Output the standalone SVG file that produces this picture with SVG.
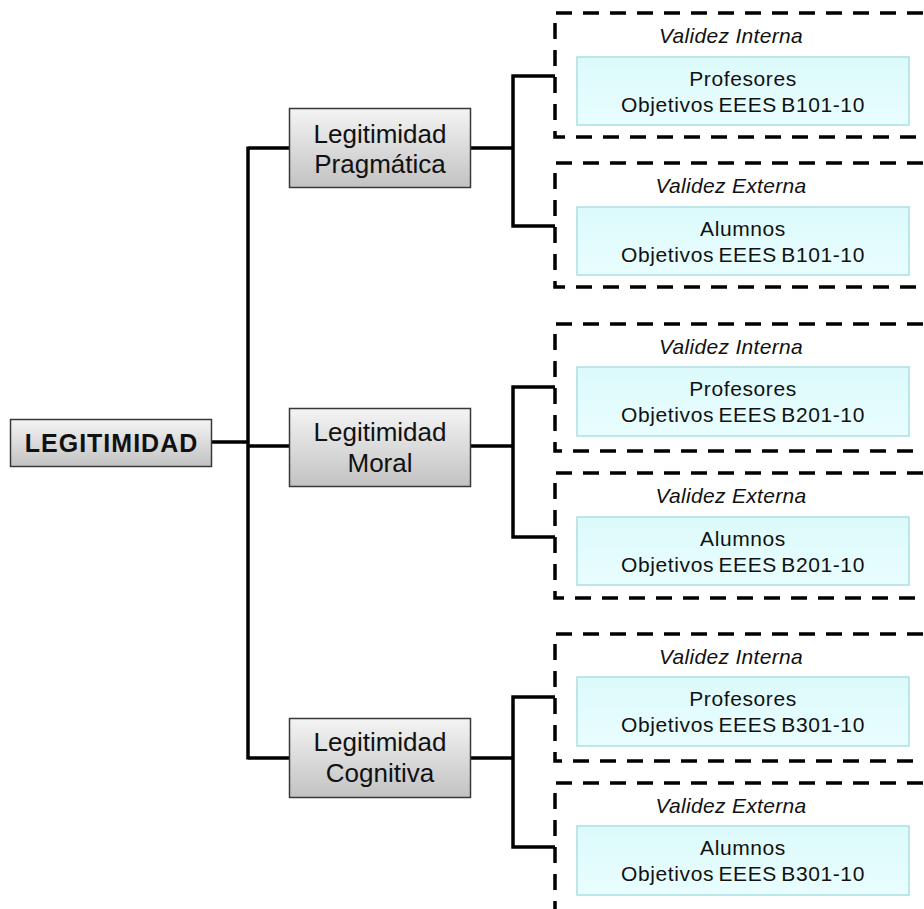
<svg xmlns="http://www.w3.org/2000/svg" width="924" height="909" viewBox="0 0 924 909">
  <defs>
    <linearGradient id="gray" x1="0" y1="0" x2="0" y2="1">
      <stop offset="0" stop-color="#f4f4f4"/>
      <stop offset="1" stop-color="#c2c2c2"/>
    </linearGradient>
    <linearGradient id="cyan" x1="0" y1="0" x2="0" y2="1">
      <stop offset="0" stop-color="#dcfafb"/>
      <stop offset="1" stop-color="#e9fdfe"/>
    </linearGradient>
  </defs>
  <style>
    .gbox { fill: url(#gray); stroke: #383838; stroke-width: 1.5; }
    .cbox { fill: url(#cyan); stroke: #a9dfe3; stroke-width: 1.5; }
    .dash { fill: none; stroke: #000; stroke-width: 3.5; stroke-dasharray: 16 11; }
    .conn { fill: none; stroke: #000; stroke-width: 3.5; }
    .t { font-family: "Liberation Sans", Arial, sans-serif; fill: #111; text-anchor: middle; }
    .lg { font-size: 26px; }
    .root { font-size: 25px; font-weight: bold; letter-spacing: 1px; }
    .it { font-size: 21px; font-style: italic; letter-spacing: 0.3px; }
    .ct { font-size: 21px; letter-spacing: 0.6px; word-spacing: -2px; }
  </style>

  <g id="connectors">
    <path class="conn" d="M212 442 H248 M248 146.5 V759.5 M248 148 H289 M248 446 H289 M248 758 H289"/>
    <path class="conn" d="M471 148 H513 M513 76 V226 M511.3 76 H555 M511.3 226 H555"/>
    <path class="conn" d="M471 446 H513 M513 387 V537 M511.3 387 H555 M511.3 537 H555"/>
    <path class="conn" d="M471 758 H513 M513 697 V847 M511.3 697 H555 M511.3 847 H555"/>
  </g>

  <g id="legitimidad">
    <rect class="gbox" x="10.5" y="419.5" width="201" height="47"/>
    <text class="t root" x="111.5" y="452">LEGITIMIDAD</text>
  </g>

  <g id="pragmatica">
    <rect class="gbox" x="289.5" y="108.5" width="181" height="79"/>
    <text class="t lg" x="380" y="143">Legitimidad</text>
    <text class="t lg" x="380" y="173">Pragmática</text>
  </g>

  <g id="moral">
    <rect class="gbox" x="289.5" y="408.5" width="181" height="78"/>
    <text class="t lg" x="380" y="441">Legitimidad</text>
    <text class="t lg" x="380" y="472">Moral</text>
  </g>

  <g id="cognitiva">
    <rect class="gbox" x="289.5" y="718.5" width="181" height="79"/>
    <text class="t lg" x="380" y="751">Legitimidad</text>
    <text class="t lg" x="380" y="782">Cognitiva</text>
  </g>

  <g id="interna1">
    <path class="dash" d="M950 13 H555 V137 H950"/>
    <text class="t it" x="731" y="43">Validez Interna</text>
    <rect class="cbox" x="577" y="57" width="332" height="68"/>
    <text class="t ct" x="743" y="86">Profesores</text>
    <text class="t ct" x="743" y="112">Objetivos EEES B101-10</text>
  </g>

  <g id="externa1">
    <path class="dash" d="M950 163 H555 V287 H950"/>
    <text class="t it" x="731" y="193">Validez Externa</text>
    <rect class="cbox" x="577" y="207" width="332" height="68"/>
    <text class="t ct" x="743" y="236">Alumnos</text>
    <text class="t ct" x="743" y="262">Objetivos EEES B101-10</text>
  </g>

  <g id="interna2">
    <path class="dash" d="M950 324 H555 V451 H950"/>
    <text class="t it" x="731" y="354">Validez Interna</text>
    <rect class="cbox" x="577" y="367" width="332" height="69"/>
    <text class="t ct" x="743" y="396">Profesores</text>
    <text class="t ct" x="743" y="422">Objetivos EEES B201-10</text>
  </g>

  <g id="externa2">
    <path class="dash" d="M950 473 H555 V598 H950"/>
    <text class="t it" x="731" y="503">Validez Externa</text>
    <rect class="cbox" x="577" y="517" width="332" height="68"/>
    <text class="t ct" x="743" y="546">Alumnos</text>
    <text class="t ct" x="743" y="572">Objetivos EEES B201-10</text>
  </g>

  <g id="interna3">
    <path class="dash" d="M950 634 H555 V761 H950"/>
    <text class="t it" x="731" y="664">Validez Interna</text>
    <rect class="cbox" x="577" y="677" width="332" height="69"/>
    <text class="t ct" x="743" y="706">Profesores</text>
    <text class="t ct" x="743" y="732">Objetivos EEES B301-10</text>
  </g>

  <g id="externa3">
    <path class="dash" d="M950 783 H555 V930"/>
    <text class="t it" x="731" y="813">Validez Externa</text>
    <rect class="cbox" x="577" y="826" width="332" height="69"/>
    <text class="t ct" x="743" y="855">Alumnos</text>
    <text class="t ct" x="743" y="881">Objetivos EEES B301-10</text>
  </g>
</svg>
